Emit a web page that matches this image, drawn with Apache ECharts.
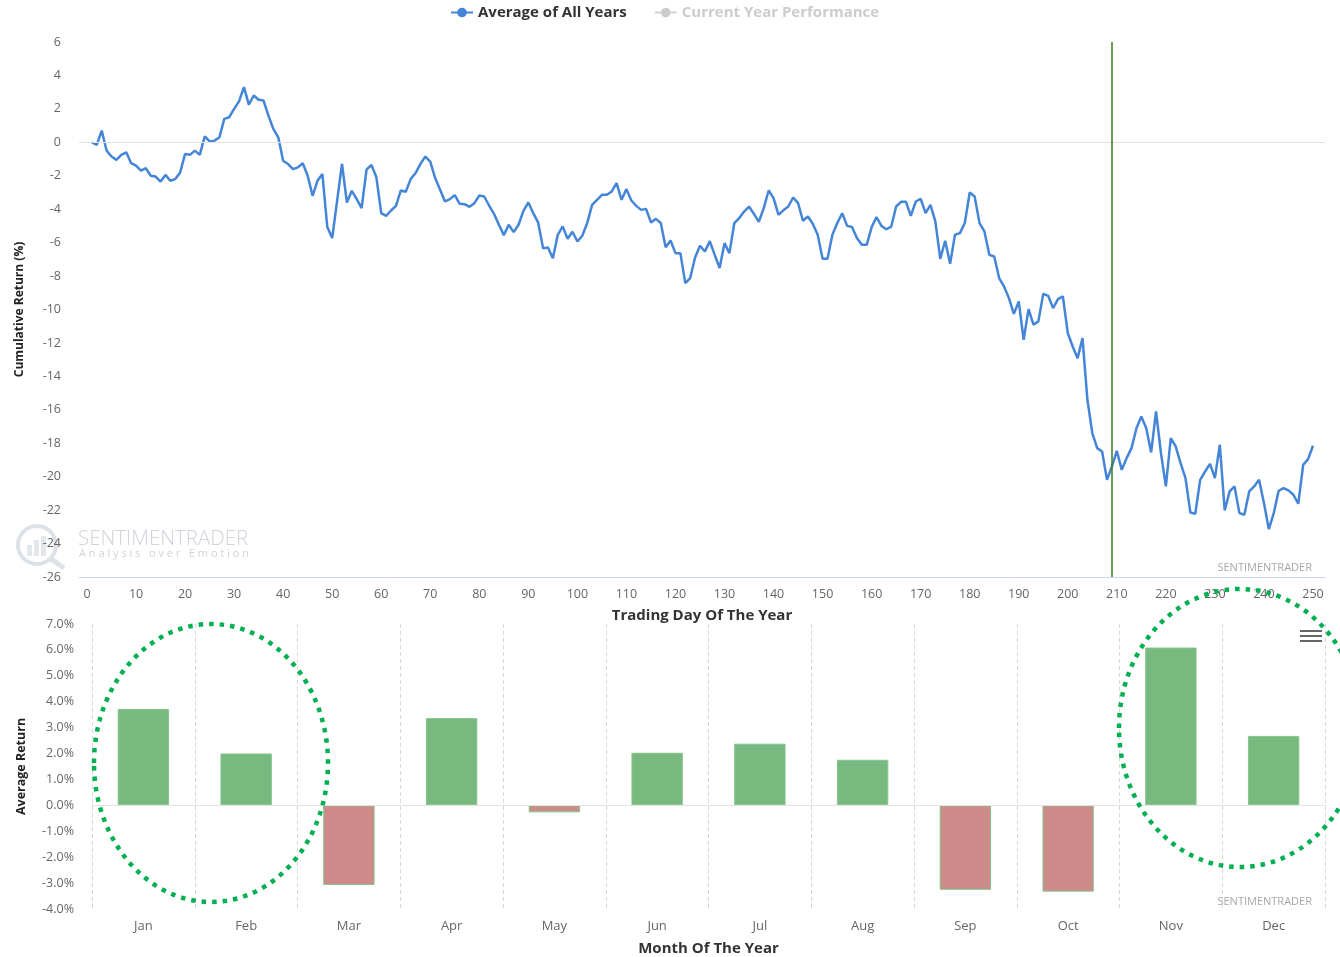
<!DOCTYPE html>
<html>
<head>
<meta charset="utf-8">
<title>Seasonality</title>
<script src="https://cdn.jsdelivr.net/npm/echarts@6/dist/echarts.min.js"></script>
<style>
  html, body { margin: 0; padding: 0; background: #fff; }
  #main { width: 1340px; height: 957px; }
</style>
</head>
<body>
<div id="main"></div>
<script type="text/javascript">
// cumulative return (%) for trading days 1..250, average of all years
var avgReturn = [
  0.0, -0.15, 0.7, -0.5, -0.85, -1.05, -0.75, -0.6, -1.25, -1.4,
  -1.7, -1.55, -2.0, -2.05, -2.35, -1.95, -2.3, -2.2, -1.8, -0.7,
  -0.75, -0.5, -0.75, 0.35, 0.05, 0.1, 0.3, 1.4, 1.5, 2.0,
  2.45, 3.3, 2.25, 2.8, 2.55, 2.5, 1.6, 0.8, 0.3, -1.1,
  -1.3, -1.6, -1.5, -1.25, -2.0, -3.2, -2.3, -1.9, -5.07, -5.73,
  -3.5, -1.29, -3.6, -2.9, -3.4, -3.94, -1.64, -1.35, -2.08, -4.24,
  -4.4, -4.08, -3.8, -2.88, -2.96, -2.2, -1.84, -1.29, -0.85, -1.15,
  -2.14, -2.84, -3.54, -3.4, -3.16, -3.68, -3.7, -3.86, -3.64, -3.18,
  -3.24, -3.78, -4.28, -4.93, -5.55, -4.93, -5.37, -4.93, -4.1, -3.6,
  -4.24, -4.8, -6.33, -6.29, -6.93, -5.53, -5.03, -5.77, -5.35, -5.93,
  -5.59, -4.83, -3.74, -3.44, -3.14, -3.14, -2.94, -2.44, -3.44, -2.8,
  -3.48, -3.8, -4.04, -3.98, -4.79, -4.58, -4.83, -6.27, -5.87, -6.63,
  -6.63, -8.42, -8.12, -6.89, -6.19, -6.53, -5.91, -6.73, -7.52, -6.03,
  -6.63, -4.83, -4.53, -4.14, -3.84, -4.28, -4.76, -3.94, -2.88, -3.34,
  -4.33, -4.07, -3.84, -3.3, -3.64, -4.69, -4.44, -4.87, -5.53, -6.97,
  -6.97, -5.53, -4.83, -4.24, -5.0, -5.07, -5.73, -6.13, -6.13, -5.07,
  -4.47, -5.0, -5.2, -5.04, -3.84, -3.56, -3.56, -4.4, -3.54, -3.38,
  -4.24, -3.74, -4.74, -6.97, -5.89, -7.27, -5.53, -5.43, -4.83, -3.0,
  -3.24, -4.83, -5.33, -6.73, -6.83, -8.12, -8.62, -9.32, -10.26, -9.52,
  -11.81, -9.98, -10.91, -10.71, -9.06, -9.18, -9.92, -9.38, -9.22, -11.41,
  -12.21, -12.91, -11.71, -15.4, -17.39, -18.29, -18.49, -20.19, -19.39, -18.45,
  -19.59, -18.89, -18.29, -17.1, -16.4, -17.1, -18.55, -16.1, -18.59, -20.58,
  -17.69, -18.19, -19.19, -20.09, -22.14, -22.22, -20.19, -19.69, -19.23, -20.09,
  -18.09, -22.02, -20.88, -20.58, -22.18, -22.28, -20.88, -20.58, -20.19, -21.58,
  -23.14, -22.18, -20.84, -20.68, -20.82, -21.08, -21.62, -19.29, -18.95, -18.15
];
var firstDay = 1;
var todayMarker = 209;
var dayTicks = [0, 10, 20, 30, 40, 50, 60, 70, 80, 90, 100, 110, 120, 130, 140, 150, 160, 170, 180, 190, 200, 210, 220, 230, 240, 250];

var months = ['Jan', 'Feb', 'Mar', 'Apr', 'May', 'Jun', 'Jul', 'Aug', 'Sep', 'Oct', 'Nov', 'Dec'];
var monthReturn = [3.72, 2.0, -3.07, 3.37, -0.27, 2.03, 2.38, 1.76, -3.26, -3.33, 6.09, 2.68];

var lineData = avgReturn.map(function (v, i) { return [firstDay + i, v]; });
var barData = monthReturn.map(function (v) {
  return { value: v, itemStyle: { color: v >= 0 ? '#77b97f' : '#cc8b88' } };
});

var FONT = '"Open Sans", "Noto Sans", sans-serif';
var myChart = echarts.init(document.getElementById('main'));

var option = {
  animation: false,
  textStyle: { fontFamily: FONT },
  legend: {
    top: 0,
    left: 445,
    itemGap: 27,
    itemWidth: 22,
    itemHeight: 12,
    data: ['Average of All Years', 'Current Year Performance'],
    selected: { 'Current Year Performance': false },
    inactiveColor: '#cccccc',
    textStyle: { fontFamily: FONT, fontSize: 15, fontWeight: 'bold', color: '#333333' }
  },
  grid: [
    { left: 79, right: 15, top: 42, height: 535 },
    { left: 92, right: 15, top: 624, height: 287 }
  ],
  xAxis: [
    {
      gridIndex: 0,
      type: 'value',
      min: -1.63,
      max: 252.45,
      name: 'Trading Day Of The Year',
      nameLocation: 'middle',
      nameGap: 31,
      nameTextStyle: { fontFamily: FONT, fontSize: 15, fontWeight: 'bold', color: '#333333' },
      axisLine: { show: true, onZero: false, lineStyle: { color: '#ccd6eb', width: 1 } },
      axisTick: { show: false },
      splitLine: { show: false },
      axisLabel: { customValues: dayTicks, margin: 11, color: '#666666', fontSize: 12.5, fontFamily: FONT }
    },
    {
      gridIndex: 1,
      type: 'category',
      data: months,
      name: 'Month Of The Year',
      nameLocation: 'middle',
      nameGap: 32,
      nameTextStyle: { fontFamily: FONT, fontSize: 15, fontWeight: 'bold', color: '#333333' },
      axisLine: { show: false, onZero: false },
      axisTick: { show: false },
      splitLine: { show: true, lineStyle: { color: '#d8d8d8', type: [4, 3], width: 1 } },
      axisLabel: { margin: 11, color: '#666666', fontSize: 13, fontFamily: FONT }
    }
  ],
  yAxis: [
    {
      gridIndex: 0,
      type: 'value',
      min: -26,
      max: 6,
      interval: 2,
      name: 'Cumulative Return (%)',
      nameLocation: 'middle',
      nameGap: 53,
      nameTextStyle: { fontFamily: FONT, fontSize: 12, fontWeight: 'bold', color: '#222222' },
      axisLine: { show: false },
      axisTick: { show: false },
      splitLine: { show: false },
      axisLabel: { margin: 18, color: '#666666', fontSize: 12.5, fontFamily: FONT }
    },
    {
      gridIndex: 1,
      type: 'value',
      min: -4,
      max: 7,
      interval: 1,
      name: 'Average Return',
      nameLocation: 'middle',
      nameGap: 64,
      nameTextStyle: { fontFamily: FONT, fontSize: 12.5, fontWeight: 'bold', color: '#222222' },
      axisLine: { show: false },
      axisTick: { show: false },
      splitLine: { show: false },
      axisLabel: {
        margin: 18, color: '#666666', fontSize: 12.5, fontFamily: FONT,
        formatter: function (v) { return v.toFixed(1) + '%'; }
      }
    }
  ],
  series: [
    {
      name: 'Average of All Years',
      type: 'line',
      xAxisIndex: 0,
      yAxisIndex: 0,
      data: lineData,
      color: '#4485d7',
      showSymbol: false,
      symbol: 'circle',
      symbolSize: 8,
      lineStyle: { width: 2.5, color: '#4485d7' },
      z: 3,
      markLine: {
        silent: true,
        symbol: 'none',
        label: { show: false },
        data: [
          { yAxis: 0, lineStyle: { color: '#e3e3e3', width: 1, type: 'solid' } },
          { xAxis: todayMarker, lineStyle: { color: '#3b7a1c', width: 1.5, type: 'solid' } }
        ]
      }
    },
    {
      name: 'Current Year Performance',
      type: 'line',
      xAxisIndex: 0,
      yAxisIndex: 0,
      data: [],
      color: '#b0b0b0',
      symbol: 'circle'
    },
    {
      name: 'Monthly',
      type: 'bar',
      xAxisIndex: 1,
      yAxisIndex: 1,
      data: barData,
      barWidth: '50%',
      itemStyle: { borderColor: '#86c48d', borderWidth: 1 },
      markLine: {
        silent: true,
        symbol: 'none',
        label: { show: false },
        data: [{ yAxis: 0, lineStyle: { color: '#e3e3e3', width: 1, type: 'solid' } }]
      }
    }
  ],
  graphic: [
    // logo watermark, top chart
    { type: 'circle', shape: { cx: 37, cy: 545, r: 19 }, style: { fill: 'none', stroke: '#dde1e8', lineWidth: 4 }, silent: true },
    { type: 'line', shape: { x1: 51, y1: 559, x2: 64, y2: 568 }, style: { stroke: '#dde1e8', lineWidth: 5 }, silent: true },
    { type: 'rect', shape: { x: 27, y: 545, width: 5, height: 11 }, style: { fill: '#e3e6ec' }, silent: true },
    { type: 'rect', shape: { x: 34, y: 540, width: 5, height: 16 }, style: { fill: '#e3e6ec' }, silent: true },
    { type: 'rect', shape: { x: 41, y: 536, width: 5, height: 20 }, style: { fill: '#e3e6ec' }, silent: true },
    { type: 'text', left: 78, top: 529, style: { text: 'SENTIMENTRADER', fill: '#cfd4dc', font: '300 20.5px ' + FONT }, silent: true },
    { type: 'text', left: 79, top: 548, style: { text: 'A n a l y s i s   o v e r   E m o t i o n', fill: '#d3d3d3', font: '11px ' + FONT }, silent: true },
    // small credits
    { type: 'text', right: 28, top: 562, style: { text: 'SENTIMENTRADER', fill: '#a8a8a8', font: '11px ' + FONT }, silent: true },
    { type: 'text', right: 28, top: 896, style: { text: 'SENTIMENTRADER', fill: '#a8a8a8', font: '11px ' + FONT }, silent: true },
    // menu icon
    { type: 'line', shape: { x1: 1300, y1: 631, x2: 1322, y2: 631 }, style: { stroke: '#666666', lineWidth: 2 }, silent: true },
    { type: 'line', shape: { x1: 1300, y1: 636, x2: 1322, y2: 636 }, style: { stroke: '#666666', lineWidth: 2 }, silent: true },
    { type: 'line', shape: { x1: 1300, y1: 641, x2: 1322, y2: 641 }, style: { stroke: '#666666', lineWidth: 2 }, silent: true },
    // hand-drawn highlight ellipses
    { type: 'ellipse', shape: { cx: 211, cy: 763, rx: 117, ry: 139 }, style: { fill: 'none', stroke: '#00b050', lineWidth: 4.5, lineDash: [4.5, 6] }, z: 100, silent: true },
    { type: 'ellipse', shape: { cx: 1240, cy: 728, rx: 121, ry: 139 }, style: { fill: 'none', stroke: '#00b050', lineWidth: 4.5, lineDash: [4.5, 6] }, z: 100, silent: true }
  ]
};

myChart.setOption(option);
</script>
</body>
</html>
